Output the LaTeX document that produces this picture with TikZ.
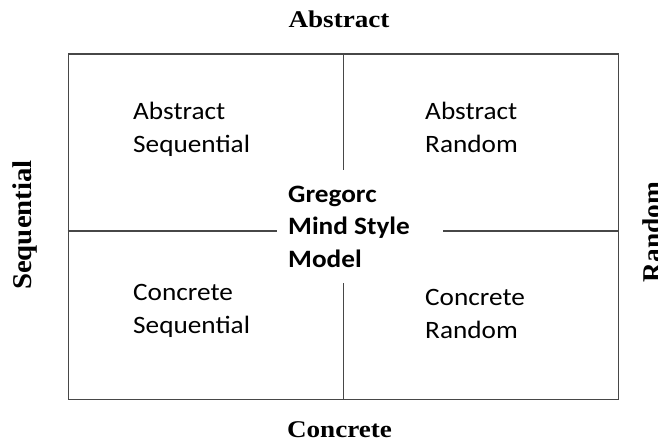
\documentclass[tikz,border=0pt]{standalone}
\usepackage{fontspec}
\setmainfont{Liberation Serif}
\newfontfamily\carlito{Carlito}
\begin{document}
\begin{tikzpicture}[x=1pt,y=-1pt,
  rule/.style={draw=black!72, line width=1.6pt},
  cell/.style={inner sep=0pt, anchor=base west, align=left, xscale=1.09,
               font=\carlito\fontsize{25}{33}\selectfont},
  hubtext/.style={cell, font=\carlito\bfseries\fontsize{25}{33}\selectfont},
  axis/.style={inner sep=0pt, anchor=base, font=\bfseries\fontsize{24}{28}\selectfont}]
\useasboundingbox (0,0) rectangle (658,446);

% outer frame and the clear area round the model name
\node[rule, minimum width=550pt, minimum height=345.5pt, inner sep=0pt] (frame) at (343.5,226.75) {};
\node[minimum width=166pt, minimum height=113pt, inner sep=0pt] (hub) at (360,226.5) {};
\coordinate (hl) at (0,231);

% dividing lines
\draw[rule] (frame.north) -- (hub.north -| frame.north);
\draw[rule] (hub.south -| frame.south) -- (frame.south);
\draw[rule] (frame.west |- hl) -- (hub.west |- hl);
\draw[rule] (hub.east |- hl) -- (frame.east |- hl);

% quadrants (positioned by the baseline of their last line)
\node[cell] (as) at (133,153) {Abstract\\Sequential};
\node[cell] (ar) at (425,153) {Abstract\\Random};
\node[cell] (cs) at (133,333) {Concrete\\Sequential};
\node[cell] (cr) at (425,338) {Concrete\\Random};
\node[hubtext] (title) at (288,268) {Gregorc\\Mind Style\\Model};

% axis labels
\node[axis, xscale=1.13] (top) at (339,28) {Abstract};
\node[axis, xscale=1.13] (bottom) at (339.5,437) {Concrete};
\node[axis, rotate=90] (left) at (31,225) {\scalebox{1.2}[1.13]{Sequential}};
\node[axis, rotate=90] (right) at (661,232) {\scalebox{1.14}[1.13]{Random}};
\end{tikzpicture}
\end{document}
